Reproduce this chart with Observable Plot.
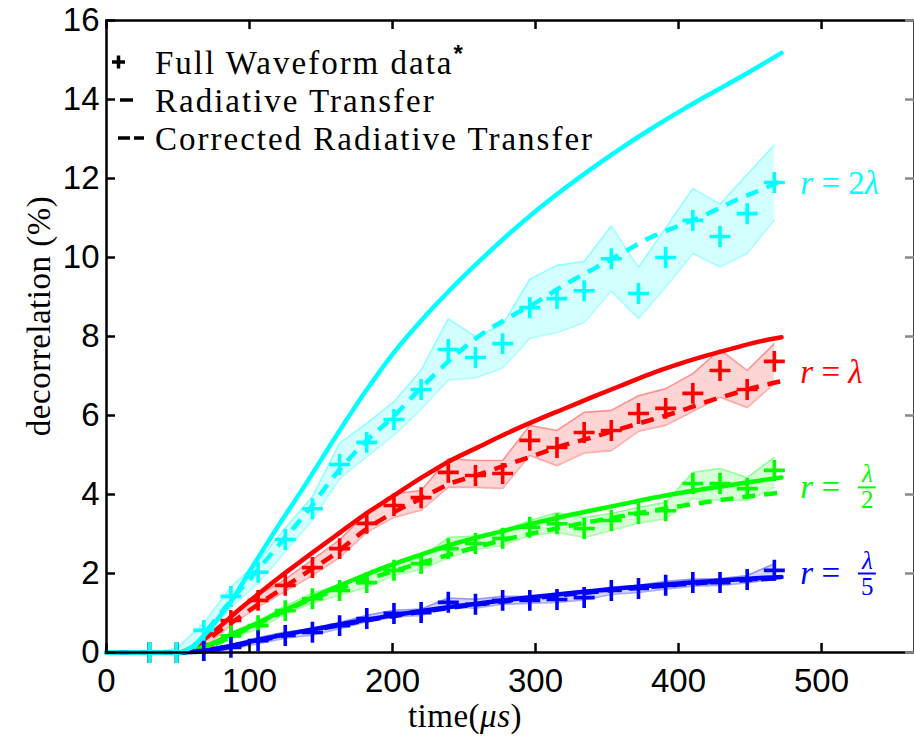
<!DOCTYPE html>
<html><head><meta charset="utf-8">
<script src="https://cdn.jsdelivr.net/npm/d3@7"></script>
<script src="https://cdn.jsdelivr.net/npm/@observablehq/plot@0.6"></script>
<style>
body{margin:0;background:#fff}
#chart{position:relative;width:914px;height:737px}
#chart > svg{position:absolute;left:0;top:0}
</style>
</head><body><div id="chart"></div>
<script>
// ---------- data ----------
const xTicks = [0, 100, 200, 300, 400, 500];
const yTicks = [0, 2, 4, 6, 8, 10, 12, 14, 16];

// Full waveform sample times (µs)
const time = [30,49,68,87,106,125,144,163,182,201,220,239,258,277,296,315,334,353,372,391,410,429,448,467];

const cyanFW = [0,0,0.56,1.42,2.03,2.86,3.64,4.76,5.32,5.9,6.66,7.67,7.47,7.82,8.73,8.96,9.16,9.97,9.09,10.0,10.94,10.53,11.11,11.9];
const cyanLo = [0,0,0.3,1.15,1.75,2.55,3.35,4.4,4.95,5.5,6.15,6.9,6.95,7.2,7.95,8.1,8.35,9.15,8.45,9.25,10.1,9.75,10.1,10.95];
const cyanHi = [0,0.1,0.75,1.65,2.3,3.15,3.95,5.3,5.8,6.35,7.15,8.45,8.0,8.3,9.45,9.8,9.9,10.8,9.75,10.75,11.75,11.35,12.1,12.85];

const redFW = [0,0,0.2,0.81,1.32,1.7,2.15,2.63,3.27,3.72,3.92,4.56,4.48,4.53,5.37,5.19,5.57,5.62,6.05,6.18,6.56,7.14,6.66,7.37];
const redLo = [0,0,0.1,0.7,1.15,1.55,1.95,2.4,3.04,3.42,3.6,4.18,4.18,4.15,4.99,4.73,5.05,5.11,5.6,5.75,6.1,6.46,6.2,6.81];
const redHi = [0,0,0.3,0.95,1.45,1.85,2.35,2.85,3.54,4.02,4.1,4.91,4.86,4.86,5.75,5.62,6.08,6.13,6.5,6.68,7.06,7.67,7.14,7.82];

const greenFW = [0,0,0.05,0.42,0.68,1.06,1.36,1.57,1.77,2.08,2.25,2.63,2.76,2.89,3.17,3.26,3.14,3.34,3.52,3.59,4.28,4.28,4.15,4.61];
const greenLo = [0,0,0,0.35,0.6,0.98,1.25,1.45,1.65,1.95,2.1,2.4,2.6,2.71,2.96,3.04,2.91,3.09,3.27,3.39,3.9,3.85,3.85,4.18];
const greenHi = [0,0,0.1,0.5,0.8,1.18,1.5,1.72,1.92,2.22,2.4,2.91,2.95,3.09,3.34,3.54,3.42,3.52,3.67,3.8,4.56,4.66,4.43,4.94];

const blueFW = [0,0,0.05,0.13,0.3,0.43,0.51,0.68,0.86,0.99,1.01,1.27,1.22,1.32,1.32,1.34,1.39,1.57,1.62,1.7,1.77,1.77,1.85,2.08];
const blueLo = [0,0,0,0.08,0.22,0.36,0.44,0.6,0.78,0.9,0.94,1.15,1.12,1.22,1.24,1.27,1.33,1.47,1.52,1.6,1.68,1.7,1.76,1.85];
const blueHi = [0,0,0.08,0.2,0.38,0.52,0.6,0.76,0.94,1.07,1.1,1.38,1.35,1.42,1.42,1.44,1.5,1.66,1.7,1.8,1.86,1.87,1.95,2.25];

// Radiative transfer curves (µs)
const rtTime = [0,50,60,70,80,90,100,120,140,160,180,200,220,240,260,280,300,320,340,360,380,400,420,440,460,472];
const cyanRT  = [0,0,0.15,0.5,0.95,1.45,2.05,3.2,4.3,5.45,6.55,7.55,8.4,9.17,9.88,10.55,11.17,11.74,12.27,12.77,13.24,13.68,14.1,14.5,14.92,15.18];
const cyanCRT = [0,0,0.1,0.55,1.0,1.45,1.85,2.7,3.55,4.5,5.3,5.95,6.7,7.4,8.0,8.45,8.85,9.3,9.7,10.1,10.5,10.8,11.1,11.45,11.75,11.95];
const redRT   = [0,0,0.1,0.38,0.68,1.0,1.3,1.88,2.42,2.95,3.48,3.95,4.42,4.85,5.2,5.55,5.87,6.17,6.47,6.76,7.05,7.3,7.52,7.72,7.9,7.98];
const redCRT  = [0,0,0.08,0.3,0.58,0.82,1.07,1.55,2.03,2.5,3.08,3.53,3.9,4.27,4.5,4.75,5.0,5.25,5.45,5.67,5.88,6.1,6.35,6.57,6.77,6.87];
const greenRT = [0,0,0.05,0.17,0.33,0.5,0.65,1.0,1.33,1.65,1.95,2.23,2.48,2.72,2.92,3.1,3.28,3.45,3.6,3.75,3.9,4.03,4.15,4.26,4.37,4.43];
const greenCRT= [0,0,0.03,0.12,0.28,0.45,0.62,0.97,1.3,1.58,1.83,2.05,2.27,2.48,2.68,2.87,3.03,3.18,3.32,3.45,3.58,3.7,3.81,3.91,4.0,4.05];
const blueRT  = [0,0,0.01,0.05,0.12,0.19,0.27,0.42,0.56,0.69,0.82,0.94,1.05,1.15,1.24,1.33,1.41,1.49,1.56,1.63,1.69,1.75,1.8,1.85,1.89,1.91];
const blueCRT = [0,0,0.01,0.04,0.1,0.17,0.25,0.4,0.54,0.67,0.8,0.92,1.03,1.13,1.22,1.3,1.38,1.46,1.53,1.6,1.66,1.72,1.77,1.82,1.86,1.88];

// series labels
const labelText  = ["r = 2λ", "r = λ", "r =", "r ="];
const labelValue = [11.87, 7.09, 4.18, 2.0];
const labelColor = ["#00ffff", "#ff0000", "#00ff00", "#0000ff"];
const fracNum = ["λ", "λ"];
const fracDen = ["2", "5"];
const fracValue = [4.18, 2.0];
const fracColor = ["#00ff00", "#0000ff"];

const legendText = ["Full Waveform data", "Radiative Transfer", "Corrected Radiative Transfer"];

// ---------- build ----------
const series = [
  {color:"#ff0000", fw:redFW, lo:redLo, hi:redHi, rt:redRT, crt:redCRT},
  {color:"#00ff00", fw:greenFW, lo:greenLo, hi:greenHi, rt:greenRT, crt:greenCRT},
  {color:"#0000ff", fw:blueFW, lo:blueLo, hi:blueHi, rt:blueRT, crt:blueCRT},
  {color:"#00ffff", fw:cyanFW, lo:cyanLo, hi:cyanHi, rt:cyanRT, crt:cyanCRT}
];

const W = 914, H = 737, mL = 106, mR = 0, mT = 20, mB = 85;
const fw = W - mL - mR, fh = H - mT - mB, tl = 9;
const lastT = time[time.length - 1];

const marks = [];
for (const s of series) {
  const band = time.map((t, i) => ({t, lo: s.lo[i], hi: s.hi[i]}));
  marks.push(Plot.areaY(band, {x:"t", y1:"lo", y2:"hi", fill:s.color, fillOpacity:0.17}));
  marks.push(Plot.line(band, {x:"t", y:"lo", stroke:s.color, strokeOpacity:0.32, strokeWidth:1.6}));
  marks.push(Plot.line(band, {x:"t", y:"hi", stroke:s.color, strokeOpacity:0.32, strokeWidth:1.6}));
}
for (const s of series) {
  const rt = rtTime.map((t, i) => ({t, v: s.rt[i]}));
  const crt = rtTime.map((t, i) => ({t, v: s.crt[i]}));
  const pts = time.map((t, i) => ({t, v: s.fw[i]}));
  marks.push(Plot.line(rt, {x:"t", y:"v", stroke:s.color, strokeWidth:4.5, curve:"monotone-x"}));
  marks.push(Plot.line(crt, {x:"t", y:"v", stroke:s.color, strokeWidth:4.5, strokeDasharray:"13,9", strokeLinecap:"butt", curve:"monotone-x"}));
  marks.push(Plot.dot(pts, {x:"t", y:"v", symbol:"plus", r:6.8, stroke:s.color, strokeWidth:3.6}));
}

const labels = labelText.map((text, i) => ({text, v: labelValue[i], c: labelColor[i]}));
const fracs = fracNum.map((n, i) => ({n, d: fracDen[i], v: fracValue[i], c: fracColor[i]}));

marks.push(
  Plot.text(labels, {x: () => lastT, y:"v", text:"text", fill:"c", dx:26, textAnchor:"start",
    fontFamily:"Liberation Serif", fontSize:33, className:"rlabel"}),
  Plot.text(fracs, {x: () => lastT, y:"v", text:"n", fill:"c", dx:93, dy:-13, textAnchor:"middle",
    fontFamily:"Liberation Serif", fontStyle:"italic", fontSize:25}),
  Plot.text(fracs, {x: () => lastT, y:"v", text:"d", fill:"c", dx:93, dy:13, textAnchor:"middle",
    fontFamily:"Liberation Serif", fontSize:25}),
  Plot.tickY(fracs, {y:"v", stroke:"c", strokeWidth:2, insetLeft:(lastT*fw/565)+84, insetRight: fw - (lastT*fw/565) - 102}),
  // frame and inward ticks
  Plot.frame({stroke:"black", strokeWidth:2.5}),
  Plot.ruleX(xTicks, {x: d => d, insetTop: fh - tl, stroke:"black", strokeWidth:2.5}),
  Plot.ruleX(xTicks, {x: d => d, insetBottom: fh - tl, stroke:"black", strokeWidth:2.5}),
  Plot.ruleY(yTicks, {y: d => d, insetRight: fw - tl, stroke:"black", strokeWidth:2.5}),
  Plot.ruleY(yTicks, {y: d => d, insetLeft: fw - tl, stroke:"#888", strokeWidth:2.5})
);

const chart = Plot.plot({
  width: W, height: H,
  marginLeft: mL, marginRight: mR, marginTop: mT, marginBottom: mB,
  x: {domain:[0, 565], ticks: xTicks, tickSize: 0, tickPadding: 16, label: null, tickFormat: d => String(d)},
  y: {domain:[0, 16], ticks: yTicks, tickSize: 0, tickPadding: 7, label: null, tickFormat: d => String(d)},
  style: {fontFamily:"Liberation Sans, Arial, sans-serif", fontSize:"33px", color:"black", background:"white"},
  marks
});
const root = document.getElementById("chart");
root.append(chart);

// italic math parts of the series labels
d3.select(chart).selectAll(".rlabel text").each(function () {
  const s = this.textContent;
  this.innerHTML = s.replace(/([rλ])/g, '<tspan font-style="italic">$1</tspan>');
});

// ---------- overlay: legend and axis titles ----------
const ov = d3.select(root).append("svg").attr("width", W).attr("height", H)
  .style("pointer-events", "none");
const serif = "Liberation Serif, Times New Roman, serif";
const rows = [74, 112, 150];
ov.selectAll("text.leg").data(legendText).join("text")
  .attr("class", "leg")
  .attr("x", 155).attr("y", (d, i) => rows[i])
  .attr("font-family", serif).attr("font-size", 33).attr("letter-spacing", "2px")
  .attr("fill", "black")
  .each(function (d, i) {
    d3.select(this).text(d);
    if (i === 0) d3.select(this).append("tspan").attr("font-family", "Liberation Sans")
      .attr("font-weight", "bold").attr("font-size", 24).attr("dy", -12).text("*");
  });
// legend symbols
ov.append("path").attr("d", `M112,${rows[0]-12}h13M118.5,${rows[0]-18.5}v13`)
  .attr("stroke", "black").attr("stroke-width", 3.5);
ov.append("path").attr("d", `M120,${rows[1]-12}h13`).attr("stroke", "black").attr("stroke-width", 3.5);
ov.append("path").attr("d", `M118,${rows[2]-12}h12M134,${rows[2]-12}h10`).attr("stroke", "black").attr("stroke-width", 3.5);

// x title
const xt = ov.append("text").attr("x", 465).attr("y", 727).attr("text-anchor", "middle")
  .attr("font-family", serif).attr("font-size", 33).attr("letter-spacing", "0.5px");
xt.append("tspan").text("time(");
xt.append("tspan").attr("font-style", "italic").text("μs");
xt.append("tspan").text(")");
// y title
ov.append("text").attr("transform", "translate(50,316) rotate(-90)").attr("text-anchor", "middle")
  .attr("font-family", serif).attr("font-size", 33).attr("letter-spacing", "0.5px")
  .text("decorrelation (%)");
</script>
</body></html>
